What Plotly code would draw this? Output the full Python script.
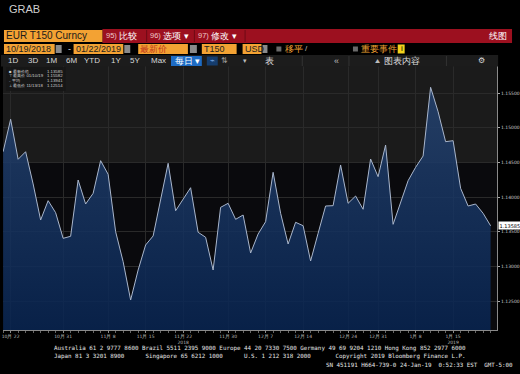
import pandas as pd
import plotly.graph_objects as go

# ---------------- data ----------------
all_days = pd.bdate_range("2018-10-19", "2019-01-22")
holidays = ["2018-12-25", "2019-01-01"]
dates = [d.strftime("%Y-%m-%d") for d in all_days if d.strftime("%Y-%m-%d") not in holidays]

prices = [1.14653, 1.15121, 1.14544, 1.14653, 1.14188, 1.13668, 1.13947, 1.13774, 1.13404, 1.13433,
          1.14245, 1.13899, 1.14053, 1.14524, 1.14327, 1.13500, 1.13067, 1.12514, 1.12947, 1.13308,
          1.13438, 1.13957, 1.14486, 1.13802, 1.13967, 1.14134, 1.13491, 1.13419, 1.12947, 1.13851,
          1.13909, 1.13678, 1.13740, 1.13192, 1.13466, 1.13644, 1.14356, 1.13765, 1.13322, 1.13635,
          1.13586, 1.13077, 1.13476, 1.13870, 1.13875, 1.14462, 1.13909, 1.14014, 1.13823, 1.14548,
          1.14293, 1.14750, 1.13606, 1.13932, 1.14235, 1.14428, 1.14591, 1.15582, 1.15230, 1.14798,
          1.14812, 1.14126, 1.13870, 1.13899, 1.13765, 1.13585]

tick_dates = ["2018-10-22", "2018-10-31", "2018-11-08", "2018-11-15", "2018-11-22", "2018-11-30",
              "2018-12-07", "2018-12-14", "2018-12-24", "2018-12-31", "2019-01-08", "2019-01-15"]
tick_text = ["10月 22", "10月 31", "11月 8", "11月 15", "11月 22<br>2018", "11月 30",
             "12月 7", "12月 14", "12月 24", "12月 31", "1月 8", "1月 15<br>2019"]
y_ticks = [1.125, 1.130, 1.135, 1.140, 1.145, 1.150, 1.155]

footer1 = "Australia 61 2 9777 8600 Brazil 5511 2395 9000 Europe 44 20 7330 7500 Germany 49 69 9204 1210 Hong Kong 852 2977 6000"
footer2 = "Japan 81 3 3201 8900      Singapore 65 6212 1000      U.S. 1 212 318 2000       Copyright 2019 Bloomberg Finance L.P."
footer3 = "SN 451191 H664-739-0 24-Jan-19  0:52:33 EST  GMT-5:00"

# ---------------- figure ----------------
W, H = 520, 374
idx = list(range(len(dates)))
tick_idx = [dates.index(d) for d in tick_dates]

def px(x):
    return x / W

def py(y):
    return 1 - y / H

fig = go.Figure()
fig.add_trace(go.Scatter(
    x=idx, y=prices, mode="lines",
    line=dict(color="#a9b6cc", width=1),
    fill="tozeroy",
    fillgradient=dict(type="vertical", start=1.1208, stop=1.1589,
                      colorscale=[[0, "rgba(8,36,80,0.88)"], [1, "rgba(40,70,115,0.85)"]]),
    hoverinfo="skip", showlegend=False))

shapes = []
annotations = []

def rect(x0, y0, x1, y1, color, line=None, layer="above"):
    shapes.append(dict(type="rect", xref="paper", yref="paper",
                       x0=px(x0), x1=px(x1), y0=py(y1), y1=py(y0),
                       fillcolor=color, line=dict(width=0 if line is None else 1, color=line or color),
                       layer=layer))

def vline(x, y0, y1, color):
    shapes.append(dict(type="line", xref="paper", yref="paper", x0=px(x), x1=px(x),
                       y0=py(y0), y1=py(y1), line=dict(color=color, width=1)))

def txt(x, y, s, size=8, color="#dddddd", anchor="left", family="Liberation Sans, Arial, sans-serif", bg=None):
    annotations.append(dict(x=px(x), y=py(y), xref="paper", yref="paper", text=s, showarrow=False,
                            xanchor=anchor, yanchor="middle", borderpad=0,
                            font=dict(size=size, color=color, family=family),
                            bgcolor=bg))

# plot background bands
shapes.append(dict(type="rect", xref="paper", yref="y", x0=px(2), x1=px(499), y0=1.145, y1=1.1589,
                   fillcolor="#1b1b1b", line=dict(width=0), layer="below"))

# top header
txt(7, 9, "GRAB", 11, "#cfcfcf")
rect(102, 29, 514, 43, "#9c101f")
rect(3, 30, 102, 42, "#f3a233")
txt(4, 36, "EUR T150 Curncy", 10, "#1a1a1a")
txt(105, 36, "95)", 7.5, "#f0c8c8")
txt(118, 36, "比较", 9, "#ffffff")
vline(146.5, 30, 42, "#6e0a15")
txt(149, 36, "96)", 7.5, "#f0c8c8")
txt(162, 36, "选项 ▾", 9, "#ffffff")
vline(194.5, 30, 42, "#6e0a15")
txt(197, 36, "97)", 7.5, "#f0c8c8")
txt(210, 36, "修改 ▾", 9, "#ffffff")
vline(245.5, 30, 42, "#6e0a15")
txt(490, 36, "线图", 9, "#ffffff")

# row 2
for (a, b, s) in [(3, 54, "10/19/2018"), (73, 123, "01/22/2019"), (138, 188, "最新价"),
                  (202, 237, "T150"), (243, 262, "USD")]:
    rect(a, 44, b, 54, "#f3a233")
    txt(a + 1, 49, s, 9, "#c0321c" if s == "最新价" else "#222222")
rect(55, 45, 61, 53, "#8a8a8a")
txt(66, 49, "-", 9, "#dddddd")
rect(124, 45, 130, 53, "#8a8a8a")
rect(190, 45, 197, 53, "#8a8a8a")
rect(263, 45, 268, 53, "#8a8a8a")
rect(277, 46.5, 282, 51.5, "#6a6a6a")
txt(285, 49, "移平", 9, "#f0a030")
txt(305, 49, "/", 8, "#bbbbbb")
rect(354, 46.5, 359, 51.5, "#6a6a6a")
txt(361, 49, "重要事件", 9, "#f0a030")
rect(399, 44.5, 406, 53.5, "#f2d21c")
txt(401, 49, "i", 8, "#000000")

# row 3 toolbar
rect(0, 55, 500, 66.5, "#1c1c1c")
for (cx, s) in [(12, "1D"), (32, "3D"), (51, "1M"), (71, "6M"), (92, "YTD"), (116, "1Y"),
                (135, "5Y"), (158, "Max")]:
    txt(cx, 61, s, 8, "#d8d8d8", anchor="center")
rect(171, 56, 202, 66, "#1e6cc4")
txt(174, 61, "每日 ▾", 8.5, "#ffffff")
rect(207, 56.5, 218, 65.5, "#153d6e")
txt(212.5, 61, "⌁", 8, "#7fb2ee", anchor="center")
txt(225, 61, "⇅", 8, "#999999", anchor="center")
txt(245, 61, "▾", 7, "#bbbbbb", anchor="center")
txt(270, 61, "表", 8.5, "#dddddd", anchor="center")
vline(303, 56, 66, "#333333")
txt(337, 61, "«", 9, "#bbbbbb", anchor="center")
vline(350, 56, 66, "#333333")
txt(379, 61, "⛰", 6, "#bbbbbb", anchor="center")
txt(384, 61, "图表内容", 8.5, "#dddddd")
vline(448, 56, 66, "#333333")
txt(483, 61, "⚙", 8, "#dddddd", anchor="center")

# legend box
rect(5, 67, 65, 91, "rgba(22,22,22,0.9)")
hi = max(prices); lo = min(prices); avg = sum(prices) / len(prices)
hi_d = dates[prices.index(hi)]; lo_d = dates[prices.index(lo)]
def mdY(d):
    return d[5:7] + "/" + d[8:10] + "/" + d[2:4]
leg = [("■ 最新价格", f"{prices[-1]:.5f}"),
       ("⊤ 最高价 " + mdY(hi_d), f"{hi:.5f}"),
       ("- 平均", f"{avg:.5f}"),
       ("⊥ 最低价 " + mdY(lo_d), f"{lo:.5f}")]
for k, (l, v) in enumerate(leg):
    yy = 71 + k * 4.8
    txt(7, yy, l, 4.3, "#d0d0d0")
    txt(63, yy, v, 4.3, "#d0d0d0", anchor="right")

# last price tag
annotations.append(dict(x=px(500), y=prices[-1], xref="paper", yref="y", text=f"{prices[-1]:.5f}",
                        showarrow=False, xanchor="left", yanchor="middle", borderpad=0.5,
                        bgcolor="#ffffff", font=dict(size=5, color="#000000", family="DejaVu Sans")))

# footer
mono = "DejaVu Sans Mono, monospace"
txt(52, 348.5, footer1.replace(" ", "\u00a0"), 5.85, "#e6e6e6", family=mono)
txt(52, 356.5, footer2.replace(" ", "\u00a0"), 5.85, "#e6e6e6", family=mono)
txt(516, 364.5, footer3.replace(" ", "\u00a0"), 5.85, "#e6e6e6", anchor="right", family=mono)

fig.update_layout(
    width=W, height=H, margin=dict(l=0, r=0, t=0, b=0),
    paper_bgcolor="#000000", plot_bgcolor="#0a0a0d",
    shapes=shapes, annotations=annotations, showlegend=False,
    xaxis=dict(domain=[px(2), px(499)], range=[-0.02, 65.87], tickmode="array",
               tickvals=tick_idx, ticktext=tick_text, showgrid=True, gridcolor="#2a2a2a", gridwidth=1,
               zeroline=False, showline=True, linecolor="#8a8a8a", linewidth=1,
               ticks="outside", ticklen=2, tickcolor="#8a8a8a",
               minor=dict(dtick=1, tick0=0, ticks="outside", ticklen=1.5, tickcolor="#666666", showgrid=False),
               tickfont=dict(size=4.5, color="#bbbbbb", family="DejaVu Sans")),
    yaxis=dict(domain=[py(330), py(66)], range=[1.120817, 1.158894], side="right",
               tickmode="array", tickvals=y_ticks, ticktext=[f"{v:.5f}" for v in y_ticks],
               showgrid=True, gridcolor="#2a2a2a", gridwidth=1, zeroline=False,
               showline=True, linecolor="#8a8a8a", linewidth=1,
               ticks="outside", ticklen=2, tickcolor="#aaaaaa",
               tickfont=dict(size=4.5, color="#cccccc", family="DejaVu Sans")),
)

fig.write_html("out.html")
